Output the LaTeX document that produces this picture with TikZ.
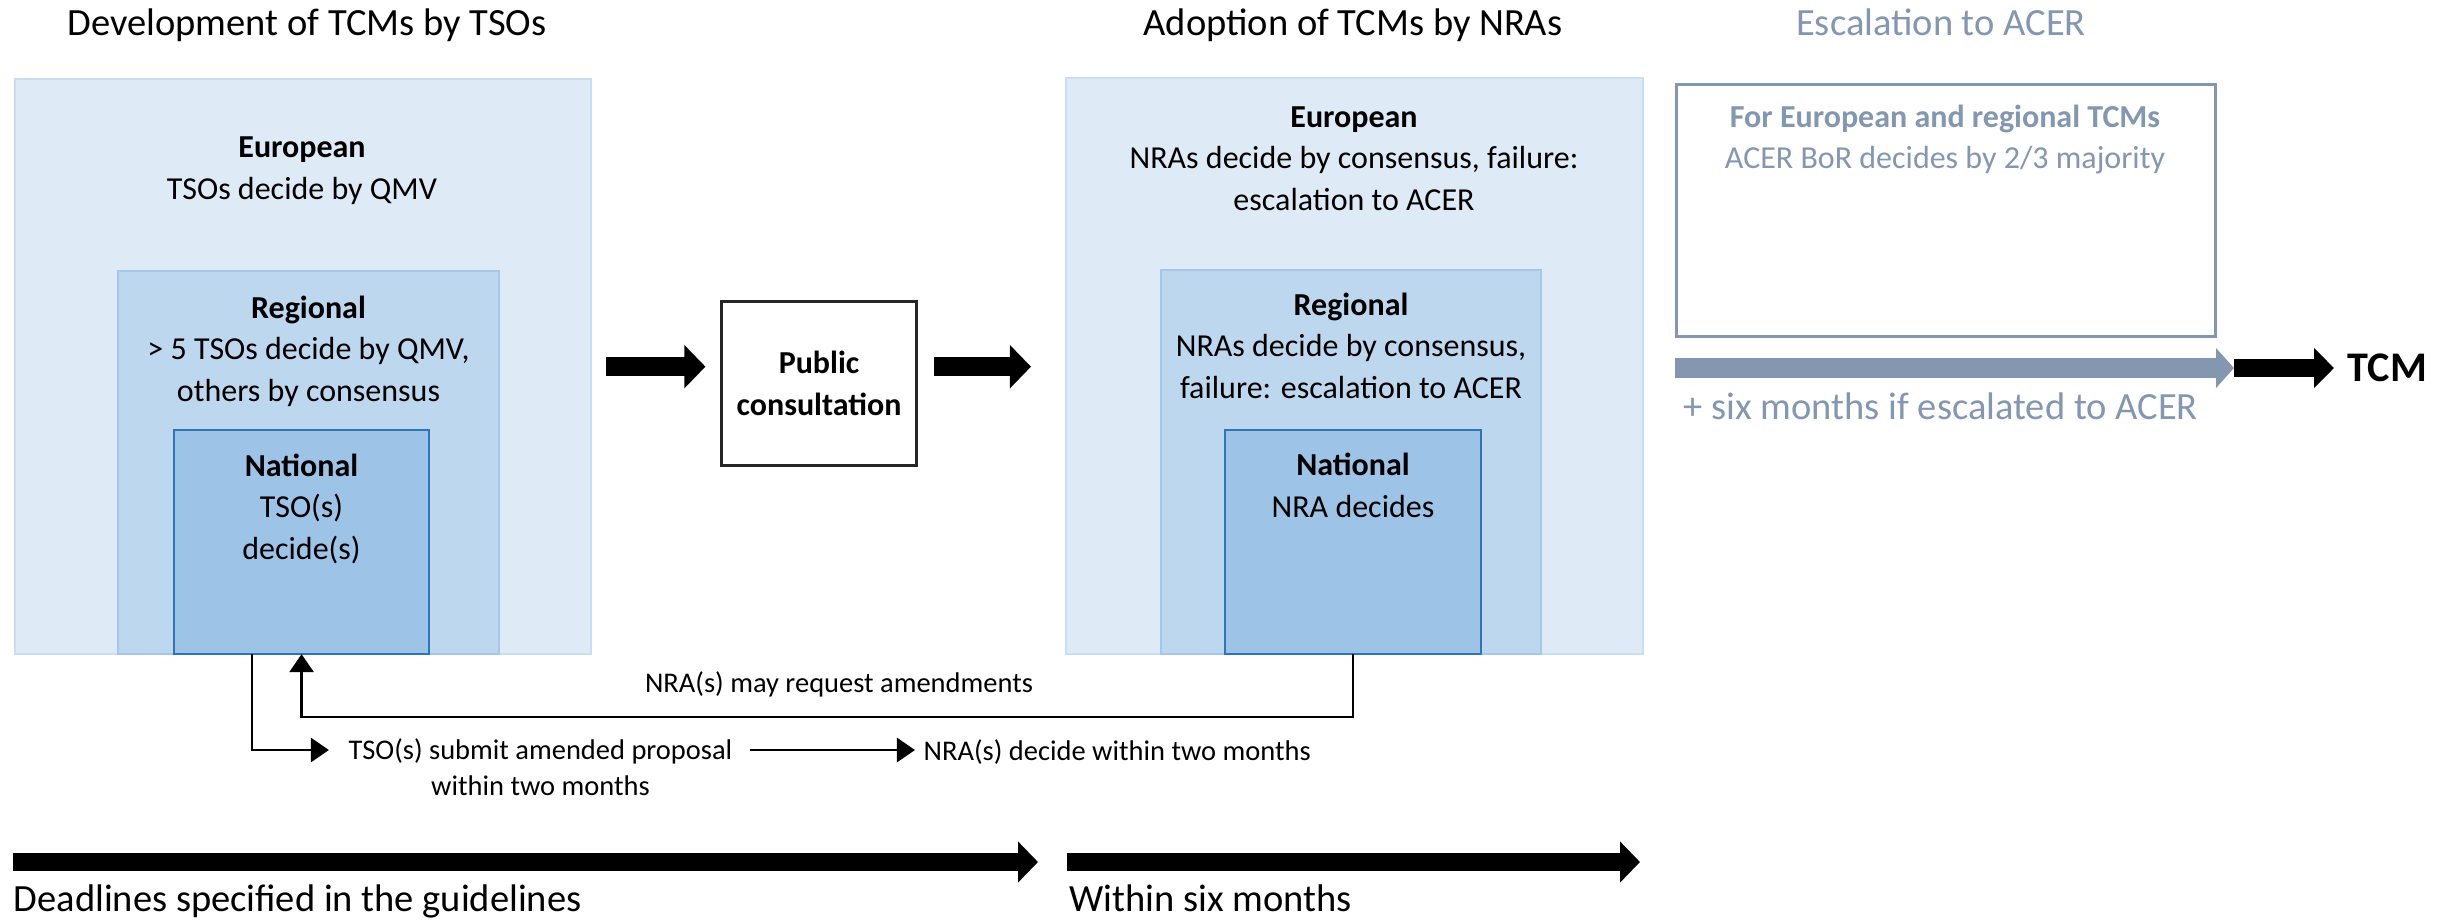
\documentclass[tikz,border=0pt]{standalone}
\usepackage{fontspec}
\setmainfont{Carlito}
\usetikzlibrary{arrows.meta}
\definecolor{euf}{HTML}{DEEBF7}
\definecolor{eub}{HTML}{C9DEF2}
\definecolor{ref}{HTML}{BDD7EE}
\definecolor{reb}{HTML}{A5C8E9}
\definecolor{naf}{HTML}{9DC3E6}
\definecolor{nab}{HTML}{2E75B6}
\definecolor{acergray}{HTML}{8497B0}
\begin{document}
\begin{tikzpicture}[x=0.01cm,y=-0.01cm,
  boxbase/.style={draw, line width=0.02cm, anchor=north west, inner sep=0pt, outer sep=0pt},
  eubox/.style={boxbase, fill=euf, draw=eub},
  rebox/.style={boxbase, fill=ref, draw=reb},
  nabox/.style={boxbase, fill=naf, draw=nab},
  ttl/.style={font=\fontsize{10.95}{13}\selectfont, anchor=base, inner sep=0pt},
  body/.style={font=\fontsize{9.1}{11.8}\selectfont, align=center, anchor=base, inner sep=0pt},
  smalltxt/.style={font=\fontsize{8.1}{9.96}\selectfont, inner sep=0pt},
  conn/.style={line width=0.028cm, -{Triangle[length=0.18cm,width=0.24cm]}},
  bigarr/.style={line width=0.19cm, -{Triangle[length=0.21cm,width=0.42cm]}}
]
\path[use as bounding box, fill=white] (0,0) rectangle (2448,923);

% titles
\node[ttl] (t1) at (307,35) {Development of TCMs by TSOs};
\node[ttl] (t2) at (1353,35) {Adoption of TCMs by NRAs};
\node[ttl, text=acergray] (t3) at (1941,35) {Escalation to ACER};

% left nested boxes (text anchors at the baseline of the last line)
\node[eubox, minimum width=5.76cm, minimum height=5.75cm] (eL) at (15,79) {};
\node[rebox, minimum width=3.81cm, minimum height=3.83cm] (rL) at (118,271) {};
\node[nabox, minimum width=2.55cm, minimum height=2.24cm] (nL) at (174,430) {};
\node[body] (eLt) at (302,199) {\textbf{European}\\TSOs decide by QMV};
\node[body] (rLt) at (308.5,401) {\textbf{Regional}\\> 5 TSOs decide by QMV,\\others by consensus};
\node[body] (nLt) at (301.5,559) {\textbf{National}\\TSO(s)\\decide(s)};

% public consultation
\node[draw=black!85, line width=0.03cm, fill=white, minimum width=1.94cm, minimum height=1.63cm,
      align=center, inner sep=0pt, font=\fontsize{9.1}{11.8}\selectfont\bfseries] (pc) at (819,383.5) {Public\\consultation};

% right nested boxes
\node[eubox, minimum width=5.77cm, minimum height=5.76cm] (eR) at (1066,78) {};
\node[rebox, minimum width=3.80cm, minimum height=3.84cm] (rR) at (1161,270) {};
\node[nabox, minimum width=2.56cm, minimum height=2.24cm] (nR) at (1225,430) {};
\node[body] (eRt) at (1354,210) {\textbf{European}\\NRAs decide by consensus, failure:\\escalation to ACER};
\node[body] (rRt) at (1351,398) {\textbf{Regional}\\NRAs decide by consensus,\\failure: escalation to ACER};
\node[body] (nRt) at (1353,517) {\textbf{National}\\NRA decides};

% ACER box
\node[draw=acergray, line width=0.03cm, fill=white, anchor=north west, inner sep=0pt,
      minimum width=5.39cm, minimum height=2.52cm] (acer) at (1675,83) {};
\node[body, text=acergray] (acert) at (1945,168.5) {\textbf{For European and regional TCMs}\\ACER BoR decides by 2/3 majority};

% middle big arrows
\draw[bigarr] ([xshift=0.15cm]eL.east) -- ([xshift=-0.15cm]eL.east -| pc.west);
\draw[bigarr] ([xshift=0.16cm]pc.east |- eL.east) -- ([xshift=-0.35cm]eR.west |- eL.east);

% escalation arrows
\node[font=\fontsize{12}{14}\selectfont\bfseries, anchor=base west, inner sep=0pt] (tcm) at (2347,381) {TCM};
\coordinate (gStart) at (1675,368);
\coordinate (gEnd) at (2234,368);
\draw[line width=0.20cm, draw=acergray, -{Triangle[length=0.18cm,width=0.39cm]}] (gStart) -- (gEnd);
\draw[line width=0.18cm, -{Triangle[length=0.20cm,width=0.39cm]}] (gEnd) -- ([xshift=-0.13cm]tcm.west |- gEnd);
\node[ttl, anchor=base west, text=acergray] (six) at (1683,419) {+ six months if escalated to ACER};

% amendment loop
\coordinate (reqY) at (0,717);
\coordinate (subY) at (0,750);
\node[smalltxt, anchor=base] (req) at (839,692) {NRA(s) may request amendments};
\node[smalltxt, anchor=base, align=center] (sub) at (540.5,795) {TSO(s) submit amended proposal\\within two months};
\node[smalltxt, anchor=base west] (dec) at (923,760) {NRA(s) decide within two months};
\draw[conn] (nR.south) -- (nR.south |- reqY) -- (nL.south |- reqY) -- (nL.south);
\draw[conn] ([xshift=-0.495cm]nL.south) -- ([xshift=-0.495cm]nL.south |- subY) -- ([xshift=-0.19cm]sub.west |- subY);
\draw[conn] ([xshift=0.17cm]sub.east |- subY) -- ([xshift=-0.08cm]dec.west |- subY);

% timeline
\coordinate (d0) at (13,862);
\coordinate (d1) at (1038,862);
\coordinate (w0) at (1067,862);
\coordinate (w1) at (1640,862);
\draw[line width=0.18cm, -{Triangle[length=0.20cm,width=0.40cm]}] (d0) -- (d1);
\draw[line width=0.18cm, -{Triangle[length=0.20cm,width=0.40cm]}] (w0) -- (w1);
\node[ttl, anchor=base west] (dl) at (13,911) {Deadlines specified in the guidelines};
\node[ttl, anchor=base west] (ws) at (1069,911) {Within six months};
\end{tikzpicture}
\end{document}
